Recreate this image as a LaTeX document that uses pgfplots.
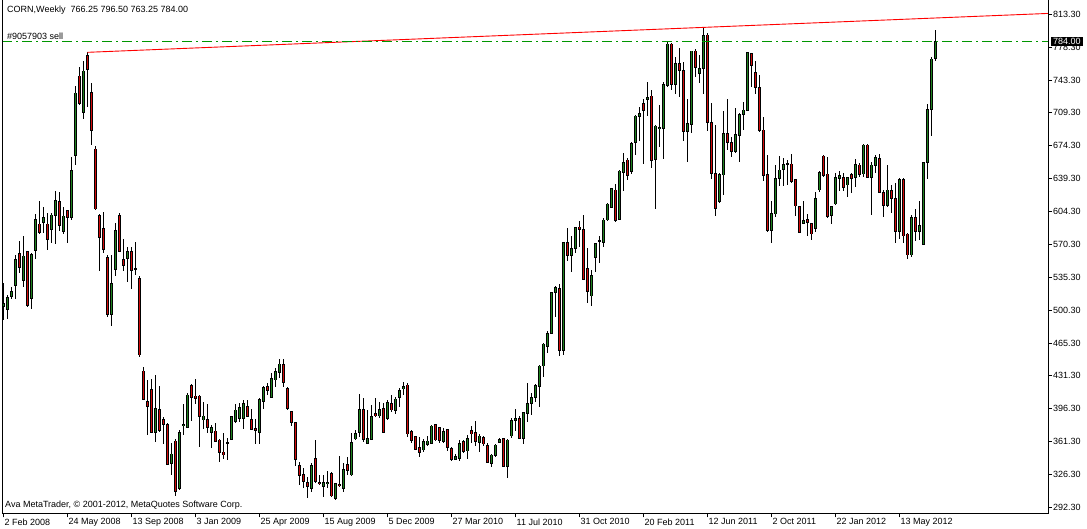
\documentclass[border=0pt]{standalone}
\usepackage{pgfplots}
\pgfplotsset{compat=1.18}
\usepackage{pgfplotstable}
\usepackage{fontspec}
\setmainfont{Liberation Sans}
\definecolor{bull}{RGB}{30,130,30}
\definecolor{bear}{RGB}{210,10,10}
\definecolor{lvl}{RGB}{0,150,0}
\pgfplotstableread{
i o h l c
0 504.0 528.6 489.9 507.5
1 501.1 516.3 490.6 513.8
2 514.5 525.1 511.7 520.2
3 526.2 558.6 511.7 554.0
4 560.3 573.4 539.2 545.2
5 531.4 578.6 525.1 557.5
6 562.4 563.1 504.0 505.0
7 512.4 560.3 501.8 559.3
8 563.1 602.3 554.7 596.3
9 591.3 615.3 580.8 582.2
10 592.7 609.3 582.2 598.4
11 591.3 602.6 564.2 574.8
12 585.3 602.6 570.9 600.8
13 600.1 626.2 570.5 616.3
14 615.3 624.8 584.3 589.6
15 583.6 609.7 580.8 599.8
16 605.8 606.5 571.6 598.4
17 598.0 662.1 595.2 648.1
18 663.6 737.2 654.0 729.8
19 747.8 756.9 716.8 718.5
20 709.0 764.0 702.7 753.0
21 769.9 772.8 715.3 754.8
22 730.5 740.7 675.2 690.3
23 670.6 673.8 606.1 607.2
24 600.8 601.9 542.0 576.9
25 586.8 604.4 560.3 564.6
26 556.1 558.6 492.7 495.5
27 496.2 558.6 483.9 528.6
28 543.1 592.0 536.7 584.6
29 600.8 602.6 561.7 562.8
30 554.0 575.5 541.3 547.3
31 555.0 567.4 529.7 562.4
32 562.4 567.4 522.3 542.4
33 543.8 572.0 537.5 544.3
34 533.9 536.4 451.1 452.9
35 436.0 440.6 405.0 406.1
36 403.6 426.5 368.4 398.3
37 416.6 427.2 370.1 370.8
38 371.2 431.8 361.3 396.5
39 395.5 420.1 371.9 373.6
40 384.9 387.7 358.5 379.6
41 379.6 380.7 336.6 337.3
42 338.4 360.2 326.1 348.3
43 362.0 363.8 303.9 308.5
44 312.0 373.6 310.2 371.2
45 378.2 400.7 368.4 379.6
46 376.4 413.1 375.4 410.6
47 420.8 421.9 383.5 408.1
48 409.6 427.5 400.7 406.8
49 409.6 410.6 356.0 387.7
50 384.2 403.6 374.3 388.4
51 384.9 400.7 370.1 376.1
52 370.8 378.9 354.3 375.8
53 372.6 380.7 360.5 361.3
54 363.1 363.8 340.2 349.7
55 350.4 370.1 342.6 347.2
56 359.5 364.8 341.9 360.0
57 363.8 388.4 363.1 387.7
58 382.4 400.7 381.5 394.8
59 385.6 401.8 382.4 397.2
60 386.0 405.3 374.3 401.8
61 398.3 405.3 387.7 388.4
62 384.9 395.5 373.6 374.3
63 375.4 384.9 358.5 373.6
64 370.8 407.1 358.8 406.1
65 403.6 420.1 395.5 418.7
66 419.5 423.0 410.7 415.2
67 408.2 433.6 407.1 428.3
68 426.5 438.9 419.5 435.3
69 434.6 448.4 428.3 443.4
70 442.4 448.4 419.5 423.7
71 417.7 419.5 394.8 396.6
72 393.1 394.1 377.9 381.4
73 381.4 382.5 335.6 342.7
74 336.0 340.2 315.6 325.4
75 326.8 333.2 312.0 319.1
76 318.0 324.4 301.5 313.8
77 312.0 338.5 308.5 336.3
78 343.7 363.1 317.3 319.1
79 318.4 326.1 315.6 316.6
80 313.8 326.1 302.5 318.4
81 317.3 330.4 312.0 318.4
82 327.9 329.7 303.2 303.9
83 301.5 318.0 299.7 317.3
84 316.3 346.2 313.1 314.9
85 312.0 338.5 308.5 332.1
86 336.7 345.5 326.1 330.7
87 326.1 370.9 325.4 360.7
88 364.2 373.7 363.1 370.2
89 370.9 411.7 366.6 395.5
90 395.5 407.2 361.4 363.8
91 359.6 394.8 358.8 364.9
92 363.8 400.1 363.1 387.8
93 391.3 407.2 387.1 388.5
94 388.5 403.6 386.0 395.5
95 396.6 401.9 370.0 370.9
96 386.0 405.4 384.3 402.9
97 401.9 410.7 393.1 394.8
98 394.1 408.2 390.6 406.4
99 408.2 417.7 398.3 415.2
100 417.0 424.7 410.7 419.5
101 421.2 423.7 365.9 369.4
102 371.9 373.7 359.6 362.4
103 366.6 367.3 352.5 353.2
104 355.4 365.9 345.5 350.1
105 352.5 363.8 350.8 361.3
106 358.5 367.3 356.8 362.0
107 359.6 378.6 358.5 377.9
108 379.0 379.7 362.4 363.1
109 376.1 377.2 360.3 362.4
110 361.3 375.4 359.6 371.9
111 373.7 374.4 351.8 355.4
112 354.3 355.4 341.3 342.7
113 342.7 348.3 341.9 345.5
114 343.7 363.1 341.3 359.6
115 361.3 363.1 349.0 350.8
116 351.5 368.4 342.7 364.9
117 373.0 377.9 359.6 369.4
118 370.9 383.2 356.8 361.3
119 360.3 369.4 350.8 367.3
120 365.9 367.3 356.8 358.9
121 356.8 359.6 338.4 339.5
122 338.4 348.3 334.9 347.2
123 346.5 358.5 344.8 357.8
124 360.6 364.9 359.6 363.8
125 364.2 364.9 334.2 334.9
126 334.9 364.2 322.6 363.1
127 367.3 386.0 364.9 383.2
128 383.5 395.5 373.0 386.0
129 386.0 388.5 364.2 364.9
130 364.9 393.1 358.9 392.0
131 391.3 423.7 382.5 401.9
132 401.9 412.4 389.5 408.2
133 408.2 422.3 403.6 420.2
134 419.5 442.4 398.3 441.3
135 441.3 465.3 430.0 464.5
136 461.7 478.6 455.4 475.8
137 475.8 519.9 475.1 519.2
138 519.2 525.8 493.4 524.4
139 523.4 528.0 451.9 457.5
140 457.5 572.7 452.9 572.0
141 572.0 587.5 552.6 557.9
142 557.9 578.7 541.0 565.7
143 565.7 588.5 560.4 587.8
144 588.2 594.9 567.4 585.7
145 585.7 600.9 532.2 532.9
146 544.5 565.7 507.5 519.9
147 515.3 542.8 505.1 536.8
148 556.2 571.7 541.0 571.0
149 573.1 578.7 550.5 573.6
150 572.0 597.4 567.4 595.6
151 595.6 613.2 594.9 612.5
152 609.0 629.8 608.6 629.0
153 627.3 633.6 593.8 594.9
154 596.6 648.4 595.6 647.4
155 645.6 666.8 626.2 656.5
156 659.0 661.5 637.9 642.4
157 646.7 678.4 644.2 676.6
158 677.7 706.5 664.3 705.5
159 704.8 714.6 679.1 708.3
160 718.9 723.1 654.8 711.1
161 723.1 741.8 705.5 725.2
162 726.6 733.0 650.9 658.3
163 659.7 696.0 606.9 694.9
164 692.1 717.1 673.1 693.5
165 692.5 741.8 659.7 738.3
166 737.6 784.1 736.5 781.6
167 781.6 782.3 733.0 739.0
168 739.0 768.2 728.8 761.2
169 760.5 777.0 725.2 753.4
170 753.1 762.9 679.4 689.0
171 689.0 723.1 657.2 697.1
172 696.7 774.6 687.9 774.2
173 774.2 776.0 746.4 757.0
174 750.6 770.0 740.1 755.9
175 755.9 799.2 728.8 790.1
176 791.1 792.9 690.0 698.8
177 698.8 719.6 638.6 644.9
178 644.9 696.0 599.8 607.9
179 615.0 645.6 613.2 643.2
180 643.2 711.1 622.0 687.2
181 687.2 723.5 669.6 677.7
182 677.7 683.0 661.8 667.8
183 667.8 713.6 666.8 686.1
184 684.7 708.3 657.2 707.3
185 707.3 720.7 690.7 711.8
186 711.8 773.5 711.1 772.4
187 771.7 772.4 736.5 758.7
188 751.7 763.6 728.8 735.4
189 735.8 748.8 689.0 690.0
190 690.7 704.1 637.2 642.4
191 643.2 664.3 582.6 584.3
192 584.3 615.7 571.0 602.0
193 602.0 653.7 598.4 639.6
194 639.6 663.2 631.9 648.4
195 649.1 660.7 631.9 654.4
196 654.8 659.0 632.6 655.3
197 654.8 665.3 635.0 636.1
198 637.9 639.0 599.8 610.4
199 609.7 610.4 581.5 582.2
200 592.1 616.0 591.4 594.9
201 596.3 601.9 578.7 592.8
202 591.4 592.1 574.5 580.8
203 586.8 625.5 583.3 618.5
204 627.3 647.7 625.5 646.0
205 663.2 664.3 641.4 642.4
206 644.2 661.8 598.1 599.1
207 600.2 610.4 591.4 609.7
208 612.5 644.9 611.5 640.7
209 639.6 647.4 626.2 642.4
210 640.7 644.9 626.6 630.1
211 632.6 641.4 620.2 640.7
212 643.8 644.8 624.5 639.6
213 640.3 659.7 630.8 654.4
214 653.7 655.5 641.4 643.8
215 644.2 675.8 641.4 674.8
216 674.8 675.8 639.6 640.3
217 640.7 657.2 600.9 653.7
218 653.0 664.3 645.6 661.8
219 660.8 665.3 623.8 624.8
220 624.8 627.3 598.4 611.4
221 611.4 653.7 609.0 627.3
222 626.6 632.6 602.6 618.5
223 618.5 634.3 570.9 583.3
224 583.3 639.6 575.2 638.6
225 638.6 639.6 570.9 578.7
226 580.8 582.2 554.0 558.6
227 558.6 600.9 556.8 598.4
228 598.4 607.2 573.8 583.3
229 583.3 615.7 574.5 589.3
230 569.9 657.2 569.2 656.5
231 656.2 718.2 639.0 712.5
232 712.5 767.5 684.4 765.7
233 766.25 796.5 763.25 784.0
}\candles
\begin{document}
\begin{tikzpicture}
\begin{axis}[
  name=ax, at={(0,0)}, anchor=south west,
  scale only axis, width=1045.5pt, height=513.5pt,
  xmin=-0.25, xmax=261.125, ymin=285.4, ymax=828.1,
  axis line style={draw=none},
  clip mode=individual,
  xtick={0,16,...,224},
  xticklabels={2 Feb 2008,24 May 2008,13 Sep 2008,3 Jan 2009,25 Apr 2009,15 Aug 2009,5 Dec 2009,27 Mar 2010,11 Jul 2010,31 Oct 2010,20 Feb 2011,12 Jun 2011,2 Oct 2011,22 Jan 2012,13 May 2012},
  ytick={813.3,778.3,743.3,709.3,674.3,639.3,604.3,570.3,535.3,500.3,465.3,431.3,396.3,361.3,326.3,292.3},
  yticklabels={813.30,778.30,743.30,709.30,674.30,639.30,604.30,570.30,535.30,500.30,465.30,431.30,396.30,361.30,326.30,292.30},
  xtick pos=left, ytick pos=right,
  xticklabel pos=left, yticklabel pos=right,
  tick align=outside, major tick length=4pt,
  tick style={black, line width=0.8pt},
  ticklabel style={font=\fontsize{9}{10}\selectfont, text=black},
  xticklabel style={anchor=north west, inner sep=0pt, xshift=1pt, yshift=-1pt},
  yticklabel style={anchor=west, inner sep=0pt, xshift=1pt},
]
% wicks
\addplot[draw=none, mark=none, forget plot,
  error bars/.cd, y dir=both, y explicit, error mark=none,
  error bar style={draw=black, line width=1pt}]
  table[x=i, y expr={(\thisrow{h}+\thisrow{l})/2}, y error expr={(\thisrow{h}-\thisrow{l})/2}] {\candles};
% body outline
\addplot[draw=none, mark=none, forget plot,
  error bars/.cd, y dir=both, y explicit, error mark=none,
  error bar style={draw=black, line width=3pt}]
  table[x=i, y expr={(\thisrow{o}+\thisrow{c})/2}, y error expr={abs(\thisrow{c}-\thisrow{o})/2+0.5}] {\candles};
% bull fill
\addplot[draw=none, mark=none, forget plot,
  error bars/.cd, y dir=both, y explicit, error mark=none,
  error bar style={draw=bull, line width=1.2pt}]
  table[x=i, y expr={(\thisrow{o}+\thisrow{c})/2}, y error expr={(\thisrow{c}>\thisrow{o})*max(abs(\thisrow{c}-\thisrow{o})/2-0.45,0)}] {\candles};
% bear fill
\addplot[draw=none, mark=none, forget plot,
  error bars/.cd, y dir=both, y explicit, error mark=none,
  error bar style={draw=bear, line width=1.2pt}]
  table[x=i, y expr={(\thisrow{o}+\thisrow{c})/2}, y error expr={(\thisrow{c}<\thisrow{o})*max(abs(\thisrow{c}-\thisrow{o})/2-0.45,0)}] {\candles};
% trend line
\addplot[draw=red, line width=0.9pt, mark=none] coordinates {(21,772.8) (261.125,813.9)};
% level line of the sell order at 784.00
\addplot[draw=lvl, line width=1.2pt, mark=none, dash pattern=on 10pt off 4pt on 2pt off 4pt] coordinates {(-0.25,784) (261.125,784)};
% frame
\draw[black, line width=0.8pt] (rel axis cs:0,1) -- (rel axis cs:0,0) -- (rel axis cs:1,0) -- (rel axis cs:1,1);
\coordinate (lbl) at (axis cs:261.125,784);
\node[anchor=west, inner sep=0pt, xshift=4.5pt, yshift=-10.5pt, font=\fontsize{9}{10}\selectfont] at (rel axis cs:0,1) {CORN,Weekly\ \ 766.25 796.50 763.25 784.00};
\node[anchor=west, inner sep=0pt, xshift=4.5pt, yshift=-36.5pt, font=\fontsize{9}{10}\selectfont] at (rel axis cs:0,1) {\#9057903 sell};
\node[anchor=west, inner sep=0pt, xshift=2.5pt, yshift=8.5pt, font=\fontsize{9}{10}\selectfont] at (rel axis cs:0,0) {Ava MetaTrader, © 2001-2012, MetaQuotes Software Corp.};
\end{axis}
\node[anchor=west, xshift=3pt, fill=black, text=white, inner xsep=2pt, inner ysep=1.5pt, font=\fontsize{9}{10}\selectfont] at (lbl) {784.00};
\pgfresetboundingbox
\path[use as bounding box] ([xshift=-2.5pt,yshift=-15.5pt]ax.south west) rectangle ([xshift=39pt]ax.north east);
\end{tikzpicture}
\end{document}
